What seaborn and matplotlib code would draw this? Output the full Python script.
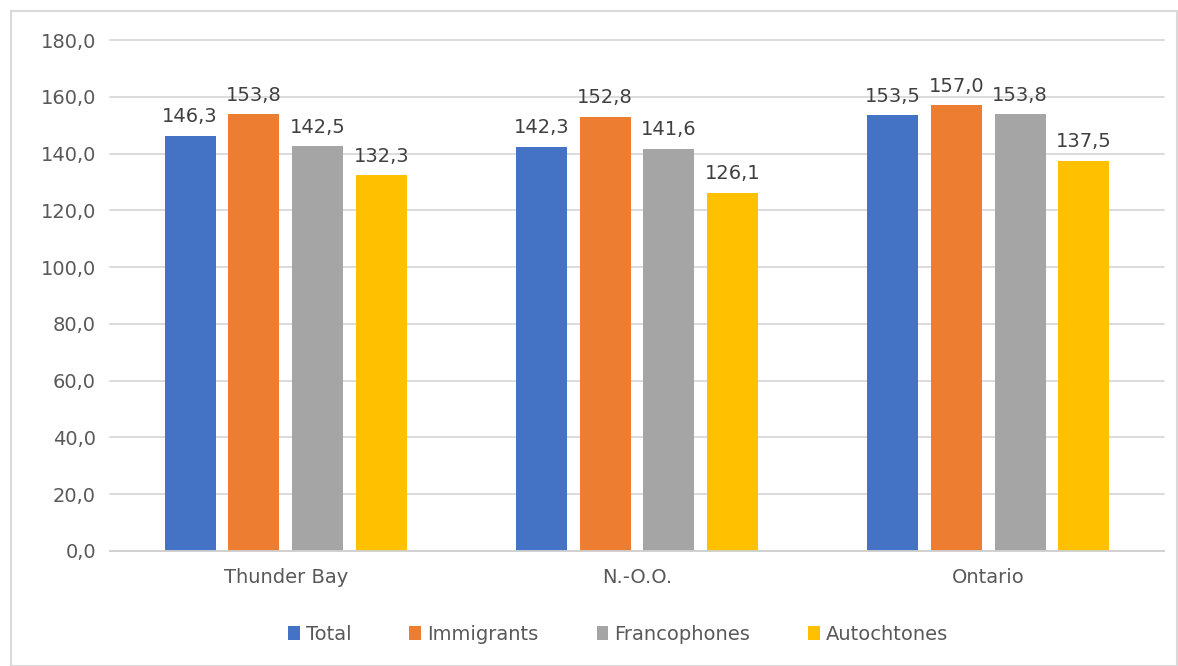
import matplotlib
matplotlib.use("Agg")
import matplotlib.pyplot as plt
import seaborn as sns
import pandas as pd
from matplotlib.patches import Rectangle
from matplotlib.ticker import FuncFormatter

categories = ["Thunder Bay", "N.-O.O.", "Ontario"]
series_names = ["Total", "Immigrants", "Francophones", "Autochtones"]
total = [146.3, 142.3, 153.5]
immigrants = [153.8, 152.8, 157.0]
francophones = [142.5, 141.6, 153.8]
autochtones = [132.3, 126.1, 137.5]
y_ticks = [0, 20, 40, 60, 80, 100, 120, 140, 160, 180]

colors = ["#4472C4", "#ED7D31", "#A5A5A5", "#FFC000"]

rows = []
for name, vals in zip(series_names, [total, immigrants, francophones, autochtones]):
    for c, v in zip(categories, vals):
        rows.append({"cat": c, "series": name, "value": v})
df = pd.DataFrame(rows)

sns.set_theme(style="white")
plt.rcParams["font.family"] = ["DejaVu Sans"]
text_color = "#595959"
fs = 14

fig = plt.figure(figsize=(11.78, 6.66), dpi=100)
ax = fig.add_axes([110 / 1178, 1 - 551 / 666, (1164 - 110) / 1178, (551 - 40) / 666])

sns.barplot(data=df, x="cat", y="value", hue="series", order=categories,
            hue_order=series_names, palette=colors, width=0.726, gap=0.2,
            saturation=1, ax=ax, errorbar=None, linewidth=0)

for cont in ax.containers:
    ax.bar_label(cont, labels=[f"{v:.1f}".replace(".", ",") for v in cont.datavalues],
                 padding=7, fontsize=fs, color="#404040")

ax.set_ylim(0, 180)
ax.set_xlim(-0.5, 2.5)
ax.set_yticks(y_ticks)
ax.yaxis.set_major_formatter(FuncFormatter(lambda v, p: f"{v:.1f}".replace(".", ",")))
ax.grid(axis="y", color="#D9D9D9", linewidth=1.3)
for gl in ax.get_ygridlines():
    gl.set_clip_on(False)
ax.set_axisbelow(True)
for s in ["top", "right", "left"]:
    ax.spines[s].set_visible(False)
ax.spines["bottom"].set_color("#D0D0D0")
ax.spines["bottom"].set_linewidth(1.3)
ax.tick_params(axis="both", length=0, labelsize=fs, colors=text_color, pad=10)
ax.tick_params(axis="x", pad=12)
ax.set_xlabel("")
ax.set_ylabel("")

leg = ax.legend(loc="center", bbox_to_anchor=(618 / 1178, 1 - 634 / 666),
                bbox_transform=fig.transFigure, ncol=4, frameon=False,
                fontsize=fs, handlelength=0.6, handleheight=0.7,
                handletextpad=0.3, columnspacing=3.0)
for t in leg.get_texts():
    t.set_color(text_color)

fig.patches.append(Rectangle((11 / 1178, 0), 1 - 12 / 1178, 1 - 11 / 666,
                             transform=fig.transFigure, fill=False,
                             edgecolor="#D9D9D9", linewidth=1.5))

fig.savefig("out.png", dpi=100, facecolor="white")
